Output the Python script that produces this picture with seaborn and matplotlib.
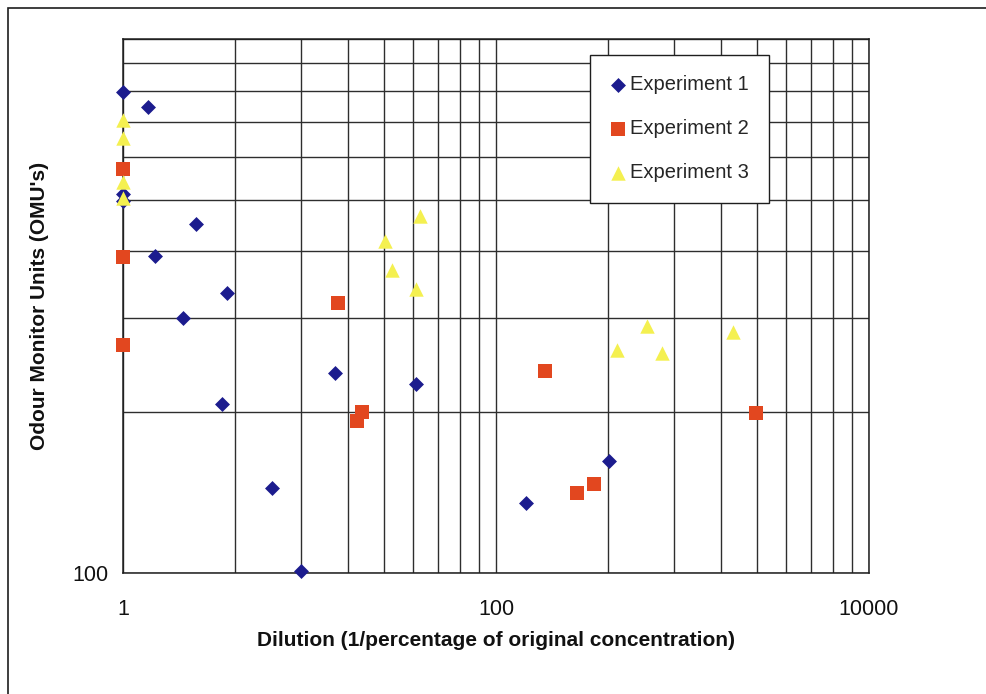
import matplotlib
matplotlib.use("Agg")
import matplotlib.pyplot as plt
import seaborn as sns
import pandas as pd
from matplotlib.patches import Rectangle
from matplotlib.ticker import FixedLocator, NullFormatter

# Measured odour monitor readings at each dilution level
exp1_dilution = [1, 1.36, 1, 1, 2.46, 1.49, 3.62, 2.10, 3.41, 6.27, 9.04, 13.7, 37.1, 145, 405]
exp1_omu = [796, 747, 513, 497, 450, 392, 335, 300, 207, 144, 101, 237, 226, 135, 162]

exp2_dilution = [1, 1, 1, 14.2, 17.9, 19.2, 183, 273, 337, 2478]
exp2_omu = [571, 391, 267, 321, 193, 200, 239, 141, 147, 199]

exp3_dilution = [1, 1, 1, 1, 39.1, 25.5, 27.6, 37.1, 643, 444, 779, 1858]
exp3_omu = [705, 653, 540, 504, 466, 419, 370, 340, 290, 262, 258, 283]

series_names = ["Experiment 1", "Experiment 2", "Experiment 3"]
x_major = [1, 100, 10000]
x_tick_labels = ["1", "100", "10000"]
y_major = [100]
y_tick_labels = ["100"]

sns.set_style("white")
plt.rcParams["font.family"] = ["Liberation Sans", "DejaVu Sans"]

W, H = 987, 694
fig = plt.figure(figsize=(W / 100, H / 100), dpi=100)
fig.patch.set_facecolor("white")

# plot area in pixel coordinates
L, R, T, B = 123, 869, 39, 573
ax = fig.add_axes([L / W, 1 - B / H, (R - L) / W, (B - T) / H])

frames = []
for name, xs, ys in zip(series_names,
                        [exp1_dilution, exp2_dilution, exp3_dilution],
                        [exp1_omu, exp2_omu, exp3_omu]):
    frames.append(pd.DataFrame({"dilution": xs, "omu": ys, "series": name}))
df = pd.concat(frames, ignore_index=True)

styles = {
    "Experiment 1": dict(marker="D", color="#1c1c8e", s=58),
    "Experiment 2": dict(marker="s", color="#e2471f", s=90),
    "Experiment 3": dict(marker="^", color="#f4f050", s=108),
}

ax.set_xscale("log")
ax.set_yscale("log")

for name in series_names:
    sub = df[df["series"] == name]
    st = styles[name]
    sns.scatterplot(data=sub, x="dilution", y="omu", ax=ax, marker=st["marker"],
                    color=st["color"], s=st["s"], linewidth=0, label=name,
                    clip_on=False, zorder=3)

ax.set_xlim(1, 10000)
ax.set_ylim(100, 1000)

# gridlines: squares of 1..10 within each hundred-fold span on x, 200..900 on y
x_minor = [k * k * base for base in (1, 100) for k in range(2, 10)]
y_minor = [k * 100 for k in range(2, 10)]
ax.xaxis.set_major_locator(FixedLocator(x_major))
ax.set_xticklabels(x_tick_labels)
ax.xaxis.set_minor_locator(FixedLocator(x_minor))
ax.xaxis.set_minor_formatter(NullFormatter())
ax.yaxis.set_major_locator(FixedLocator(y_major + [1000]))
ax.set_yticklabels(y_tick_labels + [""])
ax.yaxis.set_minor_locator(FixedLocator(y_minor))
ax.yaxis.set_minor_formatter(NullFormatter())

grid_kw = dict(color="#2e2e2e", linewidth=1.0)
ax.grid(True, which="both", axis="both", **grid_kw)
ax.set_axisbelow(True)

for sp in ax.spines.values():
    sp.set_color("#1e1e1e")
    sp.set_linewidth(1.1)

ax.tick_params(axis="x", which="major", direction="out", length=6, width=1,
               color="#1e1e1e", pad=13, labelsize=15.5, labelcolor="#111111")
ax.tick_params(axis="y", which="major", direction="out", length=4.5, width=1,
               color="#1e1e1e", pad=6, labelsize=15.5, labelcolor="#111111")
ax.tick_params(which="minor", length=0)

ax.set_xlabel("")
ax.set_ylabel("")
fig.text((L + R) / 2 / W, 1 - 641 / H,
         "Dilution (1/percentage of original concentration)",
         ha="center", va="center", fontsize=15, fontweight="bold", color="#111111")
fig.text(40 / W, 1 - (T + B) / 2 / H, "Odour Monitor Units (OMU's)",
         ha="center", va="center", rotation=90, fontsize=15, fontweight="bold",
         color="#111111")

leg = ax.legend(loc="upper left", bbox_to_anchor=((590 - L) / (R - L), (B - 55) / (B - T)),
                borderaxespad=0, frameon=True, fancybox=False, fontsize=14.5,
                borderpad=1.0, labelspacing=1.25, handlelength=0.8, handletextpad=0.2,
                scatterpoints=1)
leg.get_frame().set_edgecolor("#1e1e1e")
leg.get_frame().set_linewidth(1.0)
leg.get_frame().set_facecolor("white")
leg.get_frame().set_alpha(1)

# chart-area border, running off the right and bottom edges
fig.patches.append(Rectangle((8 / W, -0.2), 1.2, 1.2 - 8 / H, transform=fig.transFigure,
                             fill=False, edgecolor="#1e1e1e", linewidth=1.2))

fig.savefig("out.png", dpi=100)
